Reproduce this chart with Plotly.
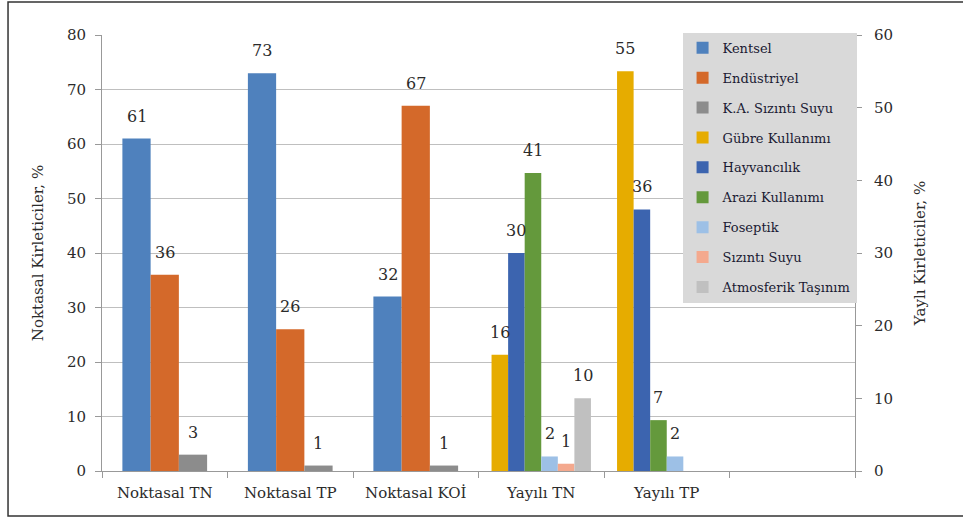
import plotly.graph_objects as go

categories = ["Noktasal TN", "Noktasal TP", "Noktasal KOİ", "Yayılı TN", "Yayılı TP", " "]

# Point sources (left axis, %)
point_names = ["Kentsel", "Endüstriyel", "K.A. Sızıntı Suyu"]
kentsel = [61, 73, 32, None, None, None]
endustriyel = [36, 26, 67, None, None, None]
ka_sizinti = [3, 1, 1, None, None, None]

# Diffuse sources (right axis, %)
diffuse_names = ["Gübre Kullanımı", "Hayvancılık", "Arazi Kullanımı", "Foseptik",
                 "Sızıntı Suyu", "Atmosferik Taşınım"]
gubre = [None, None, None, 16, 55, None]
hayvancilik = [None, None, None, 30, 36, None]
arazi = [None, None, None, 41, 7, None]
foseptik = [None, None, None, 2, 2, None]
sizinti = [None, None, None, 1, None, None]
atmosferik = [None, None, None, 10, None, None]

point_series = [kentsel, endustriyel, ka_sizinti]
diffuse_series = [gubre, hayvancilik, arazi, foseptik, sizinti, atmosferik]

point_colors = ["#4F81BD", "#D4692A", "#8C8C8C"]
diffuse_colors = ["#E6AC00", "#3C64AF", "#64993C", "#9DC0E6", "#F4A98E", "#C0C0C0"]

FONT = "DejaVu Serif"
TXT = "#2b2b2b"

fig = go.Figure()
annotations = []


def add_group(names, series, colors, width, yaxis, yref):
    n = len(names)
    for i, (name, vals, col) in enumerate(zip(names, series, colors)):
        off = -n / 2 * width + i * width
        fig.add_trace(go.Bar(
            x=categories, y=vals, name=name, marker=dict(color=col, line=dict(width=0)),
            width=width, offset=off, yaxis=yaxis, legendgroup=name,
        ))
        for ci, v in enumerate(vals):
            if v is None:
                continue
            annotations.append(dict(
                x=ci + off + width / 2, y=v, xref="x", yref=yref, text=str(v),
                showarrow=False, yanchor="bottom", xanchor="center", yshift=11,
                font=dict(family=FONT, size=16, color=TXT),
            ))


add_group(point_names, point_series, point_colors, 0.225, "y", "y")
add_group(diffuse_names, diffuse_series, diffuse_colors, 0.132, "y2", "y2")

fig.update_layout(
    width=963, height=518,
    margin=dict(l=102, r=108, t=35, b=47),
    paper_bgcolor="white", plot_bgcolor="white",
    barmode="overlay",
    font=dict(family=FONT, color=TXT),
    xaxis=dict(
        type="category", categoryorder="array", categoryarray=categories,
        range=[-0.5, 5.5], tickson="boundaries", ticks="outside", ticklen=6,
        tickcolor="#999999", showline=True, linecolor="#999999", linewidth=1,
        showgrid=False, tickfont=dict(family=FONT, size=15, color=TXT),
        ticklabelstandoff=8,
    ),
    yaxis=dict(
        range=[0, 80], dtick=10, ticks="outside", ticklen=6, tickcolor="#999999",
        showline=True, linecolor="#999999", showgrid=True, gridcolor="#BFBFBF",
        zeroline=False, tickfont=dict(family=FONT, size=15, color=TXT),
        ticklabelstandoff=6,
        title=dict(text="Noktasal Kirleticiler, %", font=dict(family=FONT, size=15, color=TXT),
                   standoff=19),
    ),
    yaxis2=dict(
        range=[0, 60], dtick=10, overlaying="y", side="right", ticks="outside",
        ticklen=6, tickcolor="#999999", showline=True, linecolor="#999999",
        showgrid=False, zeroline=False, tickfont=dict(family=FONT, size=15, color=TXT),
        ticklabelstandoff=9,
        title=dict(text="Yaylı Kirleticiler, %", font=dict(family=FONT, size=15, color=TXT),
                   standoff=22),
    ),
    legend=dict(
        x=0.771, y=1.005, xanchor="left", yanchor="top",
        bgcolor="#D9D9D9", borderwidth=0, traceorder="grouped", tracegroupgap=10,
        font=dict(family=FONT, size=13, color="#1a1a33"), itemwidth=30,
        maxheight=450,
    ),
    showlegend=True,
    annotations=annotations,
    shapes=[dict(type="rect", xref="paper", yref="paper", x0=-0.1248, x1=1.3,
                 y0=-0.1032, y1=1.0757, line=dict(color="#333333", width=1.5),
                 layer="below")],
)

fig.write_html("out.html", config={"displayModeBar": False},
               post_script="document.body.style.margin='0px';")
